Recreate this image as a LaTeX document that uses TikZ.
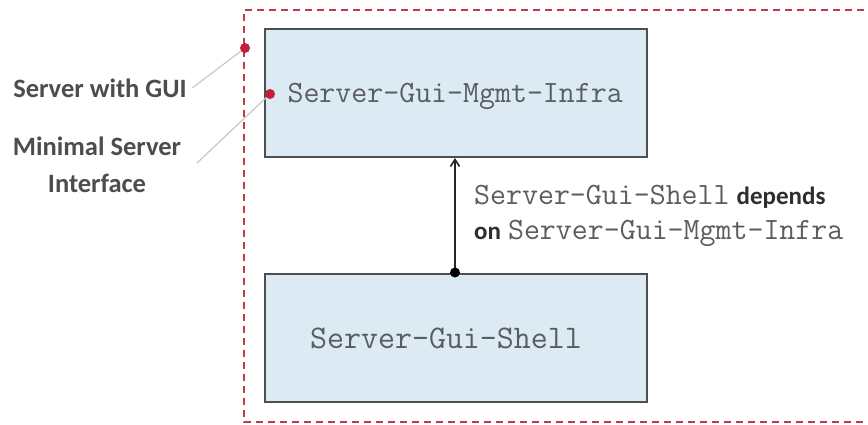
\documentclass[tikz,border=0pt]{standalone}
\usepackage{fontspec}
\setmainfont{Carlito}
\usetikzlibrary{arrows.meta}

\definecolor{boxfill}{HTML}{DCEBF3}
\definecolor{boxline}{HTML}{4A4F52}
\definecolor{roleline}{HTML}{C23A48}
\definecolor{roledot}{HTML}{C41E3A}
\definecolor{codegrey}{HTML}{595D61}
\definecolor{labeltext}{HTML}{2E2E2E}
\definecolor{leader}{HTML}{C8C8C8}

\newcommand{\codefont}{\ttfamily}

\tikzset{
  featurebox/.style={draw=boxline, line width=2pt, fill=boxfill, minimum width=382pt, minimum height=128pt, inner sep=0pt},
  codetext/.style={font=\codefont\fontsize{31}{34}\selectfont, text=codegrey},
  roletext/.style={font=\bfseries\fontsize{26.5}{37}\selectfont, text=labeltext!85, align=center},
  rolemark/.style={circle, fill=roledot, inner sep=0pt, minimum size=10pt},
  leaderline/.style={draw=leader, line width=1.2pt},
  depline/.style={draw=black!85, line width=1.6pt}
}

\begin{document}
\begin{tikzpicture}[x=1pt, y=-1pt]
  \useasboundingbox (0,0) rectangle (868,424);
  \fill[white] (0,0) rectangle (868,424);

  % installation-option boundary (runs off the right edge)
  \draw[roleline, line width=1.5pt, dash pattern=on 7pt off 5pt] (900,10) -- (244,10) -- (244,422) -- (900,422);

  % feature boxes
  \node[featurebox] (mgmt) at (456,93) {};
  \node[codetext, anchor=west] (mgmtlbl) at (284,96) {Server-Gui-Mgmt-Infra};
  \node[featurebox] (shell) at (456,337.5) {};
  \node[codetext, font=\codefont\fontsize{33}{36}\selectfont] (shelllbl) at (446,338) {Server-Gui-Shell};

  % dependency connector
  \coordinate (dep) at (shell.north -| 455,0);
  \coordinate (tip) at (mgmt.south -| 455,0);
  \draw[depline, -{Straight Barb[length=7pt, width=9pt]}] (dep) -- (tip);
  \fill[black] (dep) circle (5pt);

  \node[anchor=west, inner sep=0pt, align=left, font=\fontsize{31}{35}\selectfont] (deplbl) at (474,216)
    {{\codefont\color{codegrey}Server-Gui-Shell} {\bfseries\fontsize{25}{35}\selectfont\color{labeltext}depends}\\
     {\bfseries\fontsize{25}{35}\selectfont\color{labeltext}on} {\codefont\color{codegrey}Server-Gui-Mgmt-Infra}};

  % role markers and their labels
  \node[rolemark] (guimark) at (245,48) {};
  \node[rolemark] (minmark) at (270,94) {};
  \node[roletext] (guilbl) at (100,88) {Server with GUI};
  \node[roletext] (minlbl) at (97,165) {Minimal Server\\Interface};
  \coordinate (minend) at (197,163);
  \draw[leaderline] (guimark) -- ([xshift=2pt]guilbl.east);
  \draw[leaderline] (minmark) -- (minend);
\end{tikzpicture}
\end{document}
